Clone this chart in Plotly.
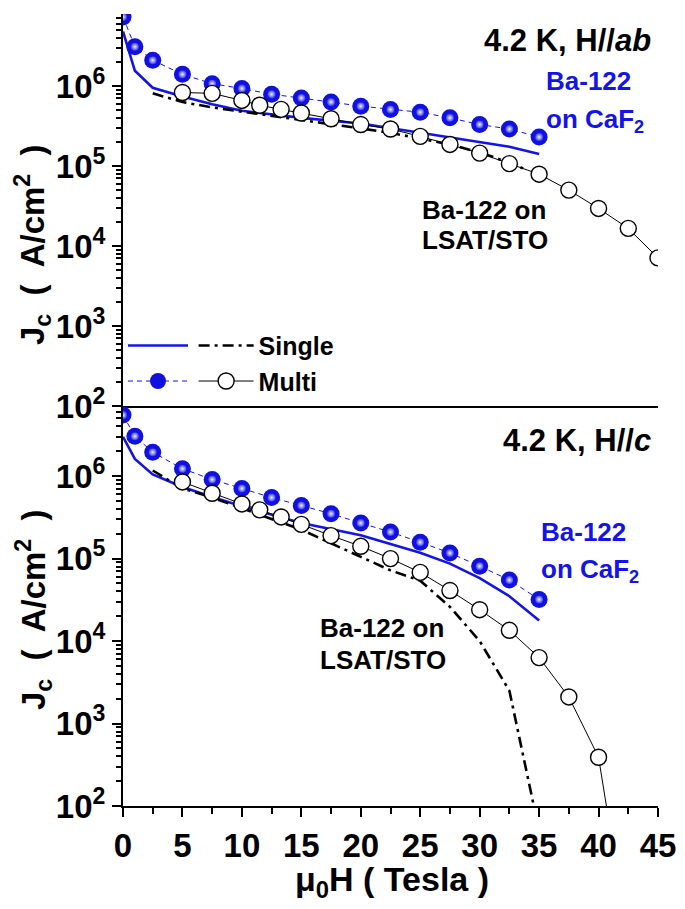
import plotly.graph_objects as go

# ---------------- data ----------------
caf2_multi_x = [0, 1, 2.5, 5, 7.5, 10, 12.5, 15, 17.5, 20, 22.5, 25, 27.5, 30, 32.5, 35]
lsat_multi_x_top = [5, 7.5, 10, 11.5, 13.3, 15, 17.5, 20, 22.5, 25, 27.5, 30, 32.5, 35, 37.5, 40, 42.5, 45]
lsat_multi_x_bot = [5, 7.5, 10, 11.5, 13.3, 15, 17.5, 20, 22.5, 25, 27.5, 30, 32.5, 35, 37.5, 40, 41]
caf2_single_x_top = [0, 1, 2.5, 5, 7.5, 10, 15, 20, 25, 30, 32.5, 35]
caf2_single_x_bot = [0, 1, 2.5, 5, 7.5, 10, 15, 20, 22.5, 25, 27.5, 30, 32.5, 35]
lsat_single_x_top = [2.5, 5, 7.5, 10, 15, 20, 22.5, 25, 27.5, 30, 32.5, 34]
lsat_single_x_bot = [2.5, 5, 7.5, 10, 15, 20, 22.5, 25, 27.5, 30, 32.5, 35]

# H // ab (top panel)
ab_caf2_multi = [7.3e6, 3.1e6, 2.1e6, 1.4e6, 1.07e6, 9.3e5, 7.9e5, 7.1e5, 6.3e5, 5.6e5,
                 5.1e5, 4.7e5, 4.0e5, 3.3e5, 2.9e5, 2.3e5]
ab_caf2_single = [4.8e6, 1.55e6, 9.5e5, 7.4e5, 5.9e5, 4.9e5, 4.0e5, 3.4e5, 2.6e5, 2.0e5, 1.74e5, 1.41e5]
ab_lsat_multi = [8.3e5, 8.1e5, 6.6e5, 5.75e5, 5.1e5, 4.6e5, 3.9e5, 3.3e5, 2.9e5, 2.35e5,
                 1.86e5, 1.45e5, 1.07e5, 7.9e4, 5.0e4, 2.95e4, 1.66e4, 7.1e3]
ab_lsat_single = [8.1e5, 6.3e5, 5.4e5, 4.8e5, 3.8e5, 2.95e5, 2.6e5, 2.2e5, 1.86e5, 1.48e5, 1.1e5, 8.9e4]

# H // c (bottom panel)
c_caf2_multi = [5.5e6, 3.05e6, 1.95e6, 1.23e6, 9.1e5, 7.1e5, 5.5e5, 4.4e5, 3.5e5, 2.7e5,
                2.1e5, 1.58e5, 1.17e5, 8.1e4, 5.5e4, 3.2e4]
c_caf2_single = [3.0e6, 1.62e6, 1.05e6, 7.4e5, 5.6e5, 4.3e5, 2.7e5, 1.92e5, 1.5e5, 1.18e5,
                 8.7e4, 5.8e4, 3.5e4, 1.78e4]
c_lsat_multi = [8.5e5, 6.2e5, 4.6e5, 3.9e5, 3.2e5, 2.6e5, 1.9e5, 1.41e5, 1.0e5, 6.8e4,
                4.1e4, 2.4e4, 1.35e4, 6.3e3, 2.1e3, 3.9e2, 50]
c_lsat_single = [1.17e6, 7.1e5, 5.5e5, 4.1e5, 2.24e5, 1.05e5, 7.2e4, 5.4e4, 2.6e4, 1.0e4, 2.5e3, 50]

x_tickvals = [0, 5, 10, 15, 20, 25, 30, 35, 40, 45]
x_ticktext = ["0", "5", "10", "15", "20", "25", "30", "35", "40", "45"]
y_tickvals = [1e2, 1e3, 1e4, 1e5, 1e6]
y_ticktext = ["10<sup>2</sup>", "10<sup>3</sup>", "10<sup>4</sup>", "10<sup>5</sup>", "10<sup>6</sup>"]

# ---------------- style ----------------
BLUE = "#1414e6"
FONT = "Liberation Sans, Arial, sans-serif"
y_minor = [m * 10 ** e for e in range(2, 7) for m in range(2, 10)]
x_minor = [v + 2.5 for v in x_tickvals[:-1]]

fig = go.Figure()

def add_panel(xa, ya, cs_x, caf2_single, lsat_single, caf2_multi, lsat_multi, lsat_mx, lsat_sx, legend_on):
    fig.add_trace(go.Scatter(x=cs_x, y=caf2_single, mode="lines", xaxis=xa, yaxis=ya,
                             line=dict(color=BLUE, width=2.6), name=" ",
                             showlegend=legend_on, legend="legend", legendrank=1))
    fig.add_trace(go.Scatter(x=lsat_sx, y=lsat_single, mode="lines", xaxis=xa, yaxis=ya,
                             line=dict(color="black", width=2.6, dash="11px,5px,3px,5px"),
                             name="Single", showlegend=legend_on, legend="legend2", legendrank=1))
    fig.add_trace(go.Scatter(x=caf2_multi_x, y=caf2_multi, mode="lines+markers", xaxis=xa, yaxis=ya,
                             line=dict(color=BLUE, width=1, dash="5px,4px"),
                             marker=dict(size=17, color="#1010e0", line=dict(width=0)),
                             name=" ", showlegend=legend_on, legend="legend", legendrank=2))
    fig.add_trace(go.Scatter(x=caf2_multi_x, y=caf2_multi, mode="markers", xaxis=xa, yaxis=ya,
                             marker=dict(size=8, color="#3a3af0", line=dict(width=0),
                                         gradient=dict(type="radial", color="#f0f0ff")),
                             showlegend=False, hoverinfo="skip"))
    fig.add_trace(go.Scatter(x=lsat_mx, y=lsat_multi, mode="lines+markers", xaxis=xa, yaxis=ya,
                             line=dict(color="black", width=1),
                             marker=dict(size=16, color="white", line=dict(color="black", width=1.4)),
                             name="Multi", showlegend=legend_on, legend="legend2", legendrank=2))

add_panel("x", "y", caf2_single_x_top, ab_caf2_single, ab_lsat_single, ab_caf2_multi, ab_lsat_multi,
          lsat_multi_x_top, lsat_single_x_top, True)
add_panel("x2", "y2", caf2_single_x_bot, c_caf2_single, c_lsat_single, c_caf2_multi, c_lsat_multi,
          lsat_multi_x_bot, lsat_single_x_bot, False)

tickfont = dict(family=FONT, size=33, color="black", weight="bold")
TOP_DOM = [0.505, 1.0]
BOT_DOM = [0.0, 0.505]

def yaxis_left(dom, rng, anchor):
    return dict(type="log", domain=dom, range=rng, anchor=anchor, showgrid=False, zeroline=False,
                showline=True, linewidth=2, linecolor="black",
                tickmode="array", tickvals=y_tickvals, ticktext=y_ticktext,
                ticks="outside", ticklen=9, tickwidth=2, tickcolor="black",
                tickfont=tickfont,
                minor=dict(tickmode="array", tickvals=y_minor, ticks="outside", ticklen=5,
                           tickwidth=1.5, tickcolor="black", showgrid=False))

def yaxis_right(dom, rng, anchor, over):
    return dict(type="log", domain=dom, range=rng, anchor=anchor, overlaying=over, side="right",
                showgrid=False, zeroline=False, showline=True, linewidth=2, linecolor="black",
                tickmode="array", tickvals=y_tickvals, showticklabels=False,
                ticks="inside", ticklen=10, tickwidth=2, tickcolor="black",
                minor=dict(tickmode="array", tickvals=y_minor, ticks="inside", ticklen=5,
                           tickwidth=1.5, tickcolor="black", showgrid=False))

def xaxis_top(anchor, over):
    return dict(range=[0, 45], anchor=anchor, overlaying=over, side="top",
                showgrid=False, zeroline=False, showline=True, linewidth=2, linecolor="black",
                tickmode="array", tickvals=x_tickvals, showticklabels=False,
                ticks="inside", ticklen=10, tickwidth=2, tickcolor="black",
                minor=dict(tickmode="array", tickvals=x_minor, ticks="inside", ticklen=6,
                           tickwidth=2, tickcolor="black", showgrid=False))

# the page body has an 8px margin, so the figure is drawn 8px smaller and offset accordingly
fig.update_layout(
    width=677, height=901,
    margin=dict(l=115, r=27, t=6, b=103),
    paper_bgcolor="white", plot_bgcolor="white",
    font=dict(family=FONT, color="black", weight="bold"),
    xaxis=dict(range=[0, 45], anchor="y", domain=[0, 1], showgrid=False, zeroline=False,
               showline=True, linewidth=2, linecolor="black", ticks="", showticklabels=False),
    xaxis2=dict(range=[0, 45], anchor="y2", domain=[0, 1], showgrid=False, zeroline=False,
                showline=True, linewidth=2, linecolor="black",
                tickmode="array", tickvals=x_tickvals, ticktext=x_ticktext,
                ticks="outside", ticklen=9, tickwidth=2, tickcolor="black", tickfont=tickfont,
                minor=dict(tickmode="array", tickvals=x_minor, ticks="outside", ticklen=6,
                           tickwidth=2, tickcolor="black", showgrid=False)),
    xaxis3=xaxis_top("y", "x"),
    xaxis4=xaxis_top("y2", "x2"),
    yaxis=yaxis_left(TOP_DOM, [2, 6.9], "x"),
    yaxis2=yaxis_left(BOT_DOM, [2, 6.85], "x2"),
    yaxis3=yaxis_right(TOP_DOM, [2, 6.9], "x3", "y"),
    yaxis4=yaxis_right(BOT_DOM, [2, 6.85], "x4", "y2"),
    legend=dict(x=0.0, y=0.559, xanchor="left", yanchor="middle", bgcolor="rgba(0,0,0,0)",
                font=dict(family=FONT, size=25, weight="bold"), itemwidth=60, tracegroupgap=0,
                traceorder="normal"),
    legend2=dict(x=0.132, y=0.559, xanchor="left", yanchor="middle", bgcolor="rgba(0,0,0,0)",
                 font=dict(family=FONT, size=25, weight="bold"), itemwidth=55, tracegroupgap=0,
                 traceorder="normal"),
    showlegend=True,
)

def ann(text, x, y, size=26, color="black", xanchor="left", angle=0):
    fig.add_annotation(text=text, x=x, y=y, xref="paper", yref="paper", xanchor=xanchor,
                       yanchor="middle", showarrow=False, textangle=angle,
                       font=dict(family=FONT, size=size, color=color, weight="bold"))

# convert page pixel positions (reference picture) to paper fractions of the plot area
def px_x(p):
    return (p - 123) / 535.0

def px_y(p):
    return (806 - p) / 792.0

# top panel texts
ann("4.2 K, H//<i>ab</i>", px_x(653), px_y(40), size=31, xanchor="right")
ann("Ba-122", px_x(544), px_y(81), color=BLUE)
ann("on CaF<sub>2</sub>", px_x(544), px_y(121), color=BLUE)
ann("Ba-122 on", px_x(420), px_y(210))
ann("LSAT/STO", px_x(420), px_y(240))
# bottom panel texts
ann("4.2 K, H//<i>c</i>", px_x(653), px_y(440), size=31, xanchor="right")
ann("Ba-122", px_x(539), px_y(532), color=BLUE)
ann("on CaF<sub>2</sub>", px_x(539), px_y(570), color=BLUE)
ann("Ba-122 on", px_x(318), px_y(628))
ann("LSAT/STO", px_x(318), px_y(660))
# axis titles
ytitle = "J<sub>c</sub>  (  A/cm<sup>2</sup>  )"
ann(ytitle, px_x(33), px_y(245), size=33, xanchor="center", angle=-90)
ann(ytitle, px_x(33), px_y(610), size=33, xanchor="center", angle=-90)
ann("\u03bc<sub>0</sub>H ( Tesla )", px_x(392), px_y(881), size=34, xanchor="center")

fig.write_html("out.html")
